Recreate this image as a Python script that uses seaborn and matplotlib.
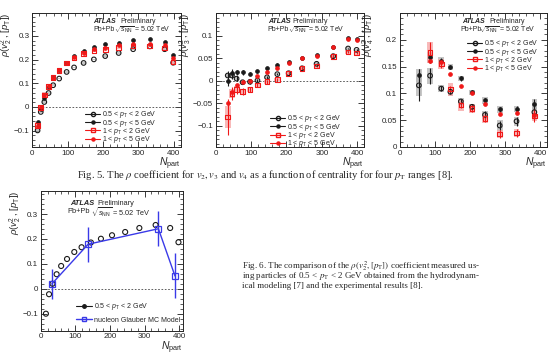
import matplotlib
matplotlib.use('Agg')
import matplotlib.pyplot as plt
from matplotlib.lines import Line2D
from matplotlib.ticker import AutoMinorLocator, FuncFormatter
import seaborn as sns

# Datos (N_part y coeficiente rho)
npart_v2 = [15, 24, 34, 46, 59, 76, 97, 118, 145, 174, 206, 244, 285, 332, 374, 398]
v2_pt05_2 = [-0.099, -0.021, 0.021, 0.059, 0.092, 0.12, 0.148, 0.167, 0.186,
             0.201, 0.215, 0.228, 0.244, 0.256, 0.244, 0.187]
v2_pt05_5 = [-0.063, -0.008, 0.04, 0.085, 0.122, 0.158, 0.187, 0.214, 0.235,
             0.253, 0.265, 0.272, 0.282, 0.289, 0.275, 0.221]
v2_pt1_2 = [-0.077, -0.003, 0.05, 0.087, 0.124, 0.155, 0.185, 0.207, 0.225,
            0.237, 0.244, 0.251, 0.258, 0.258, 0.249, 0.19]
v2_pt1_5 = [-0.082, 0.0, 0.05, 0.09, 0.124, 0.157, 0.187, 0.21, 0.23,
            0.243, 0.25, 0.26, 0.265, 0.268, 0.26, 0.205]
v2_sis_05_2 = [0.006, 0.005, 0.004, 0.004, 0.004, 0.003, 0.003, 0.003, 0.003,
               0.003, 0.003, 0.003, 0.003, 0.003, 0.004, 0.005]
v2_sis_1_2 = [0.012, 0.01, 0.012, 0.01, 0.008, 0.007, 0.006, 0.006, 0.006,
              0.005, 0.005, 0.005, 0.005, 0.005, 0.006, 0.008]

npart_v3 = [34, 46, 59, 76, 97, 118, 145, 174, 206, 244, 285, 332, 374, 398]
v3_pt05_2 = [0.012, 0.012, 0.005, -0.003, -0.002, 0.001, 0.008, 0.015, 0.017,
             0.028, 0.038, 0.055, 0.072, 0.069]
v3_pt05_5 = [0.0, 0.018, 0.019, 0.019, 0.016, 0.021, 0.028, 0.036, 0.042,
             0.05, 0.058, 0.076, 0.095, 0.094]
v3_pt1_2 = [-0.08, -0.028, -0.019, -0.024, -0.019, -0.009, -0.002, 0.003, 0.016,
            0.028, 0.033, 0.054, 0.064, 0.062]
v3_pt1_5 = [-0.05, -0.024, -0.01, -0.003, 0.0, 0.01, 0.02, 0.028, 0.04,
            0.05, 0.056, 0.075, 0.094, 0.092]
v3_est_05_2 = [0.01, 0.008, 0.006, 0.005, 0.004, 0.003, 0.003, 0.003, 0.002,
               0.002, 0.002, 0.002, 0.002, 0.002]
v3_est_05_5 = [0.012, 0.008, 0.006, 0.005, 0.004, 0.003, 0.003, 0.003, 0.002,
               0.002, 0.002, 0.002, 0.002, 0.002]
v3_est_1_2 = [0.04, 0.015, 0.01, 0.008, 0.006, 0.005, 0.004, 0.003, 0.003,
              0.003, 0.003, 0.003, 0.003, 0.003]
v3_sis_05_2 = [0.006, 0.005, 0.004, 0.003, 0.003, 0.003, 0.003, 0.003, 0.003,
               0.003, 0.003, 0.003, 0.003, 0.003]
v3_sis_1_2 = [0.025, 0.01, 0.008, 0.007, 0.006, 0.005, 0.004, 0.004, 0.004,
              0.004, 0.004, 0.004, 0.004, 0.004]

npart_v4 = [54, 86, 118, 144, 174, 206, 243, 285, 333, 384]
npart_v4_rojo = [86, 118, 144, 174, 206, 243, 285, 333, 384]
v4_pt05_2 = [0.115, 0.133, 0.109, 0.103, 0.085, 0.075, 0.06, 0.04, 0.048, 0.065]
v4_pt05_5 = [0.134, 0.167, 0.161, 0.149, 0.128, 0.102, 0.087, 0.07, 0.071, 0.08]
v4_pt1_2 = [0.176, 0.155, 0.108, 0.078, 0.072, 0.053, 0.024, 0.026, 0.058]
v4_pt1_5 = [0.16, 0.158, 0.136, 0.114, 0.1, 0.08, 0.062, 0.063, 0.06]
v4_est_05_2 = [0.03, 0.015, 0.005, 0.005, 0.005, 0.006, 0.007, 0.008, 0.008, 0.012]
v4_est_05_5 = [0.012, 0.01, 0.005, 0.004, 0.004, 0.004, 0.004, 0.005, 0.005, 0.01]
v4_est_1_2 = [0.02, 0.008, 0.006, 0.006, 0.006, 0.007, 0.007, 0.008, 0.012]
v4_sis_05_2 = [0.02, 0.015, 0.006, 0.008, 0.006, 0.006, 0.008, 0.01, 0.008, 0.012]
v4_sis_05_5 = [0.012, 0.01, 0.006, 0.006, 0.005, 0.005, 0.006, 0.006, 0.006, 0.01]
v4_sis_1_2 = [0.02, 0.01, 0.012, 0.01, 0.008, 0.008, 0.008, 0.008, 0.01]

npart_glauber = [32, 137, 340, 388]
rho_glauber = [0.02, 0.179, 0.241, 0.052]
err_glauber = [0.06, 0.07, 0.07, 0.09]

etiquetas_pt = ['0.5 < $p_{\\rm T}$ < 2 GeV', '0.5 < $p_{\\rm T}$ < 5 GeV',
                '1 < $p_{\\rm T}$ < 2 GeV', '1 < $p_{\\rm T}$ < 5 GeV']

ROJO = '#f01818'
AZUL = '#3a3ae8'
GRIS = '#b8b8b8'
ROSA = '#f7a8a8'

sns.set_theme(style='ticks')
plt.rcParams['font.family'] = ['Liberation Sans', 'DejaVu Sans']
plt.rcParams['mathtext.fontset'] = 'custom'
plt.rcParams['mathtext.rm'] = 'Liberation Sans'
plt.rcParams['mathtext.it'] = 'Liberation Sans:italic'
plt.rcParams['mathtext.bf'] = 'Liberation Sans:bold'
plt.rcParams['axes.linewidth'] = 0.7


def formato(valor, pos):
    texto = '%g' % valor
    return texto.replace('-', '\u2212')


def preparar_ejes(ax, ylim, yticks, xmax=420, cero=True):
    ax.set_xlim(0, xmax)
    ax.set_ylim(*ylim)
    ax.set_xticks([0, 100, 200, 300, 400])
    ax.set_yticks(yticks)
    ax.yaxis.set_major_formatter(FuncFormatter(formato))
    ax.xaxis.set_minor_locator(AutoMinorLocator(5))
    ax.yaxis.set_minor_locator(AutoMinorLocator(5))
    ax.tick_params(which='both', direction='in', top=True, right=True,
                   labelsize=5.8, pad=2, color='k')
    ax.tick_params(which='major', length=4, width=0.6)
    ax.tick_params(which='minor', length=2, width=0.5)
    if cero:
        ax.axhline(0, ls=(0, (2, 2)), color='#444444', lw=0.6, zorder=1)
    ax.set_xlabel('$N_{\\rm part}$', fontsize=7.5, ha='right', va='top')
    ax.xaxis.set_label_coords(1.0, -0.065)


def etiqueta_y(ax, n, x):
    ax.set_ylabel('$\\rho(v_{%d}^{2}\\,,\\,[p_{\\rm T}])$' % n, fontsize=6.8, loc='top')
    ax.yaxis.set_label_coords(x, 1.0)


def etiqueta_atlas(ax, xa, xp, xpb, xs, y1, y2, size=5.0):
    ax.text(xa, y1, 'ATLAS', transform=ax.transAxes, fontsize=size,
            fontweight='bold', fontstyle='italic', va='center')
    ax.text(xp, y1, 'Preliminary', transform=ax.transAxes, fontsize=size, va='center')
    ax.text(xpb, y2, 'Pb+Pb', transform=ax.transAxes, fontsize=size, va='center')
    ax.text(xs, y2, '$\\sqrt{s_{\\rm NN}}$ = 5.02 TeV', transform=ax.transAxes,
            fontsize=size, va='center')


def cajas(ax, x, y, sis, color, ancho=12):
    # Incertidumbre sistematica como cajas sombreadas
    ax.bar(x, [2 * s for s in sis], bottom=[v - s for v, s in zip(y, sis)],
           width=ancho, color=color, linewidth=0, alpha=0.8, zorder=1.5)


def serie(ax, x, y, color, abierto, est=None, tam=11):
    if est is not None:
        ax.errorbar(x, y, yerr=est, fmt='none', ecolor=color, elinewidth=0.8,
                    capsize=0, zorder=2)
    if abierto:
        sns.scatterplot(x=x, y=y, ax=ax, marker='o' if color == 'k' else 's',
                        s=tam, facecolor='none', edgecolor=color, linewidth=0.8,
                        zorder=3)
    else:
        sns.scatterplot(x=x, y=y, ax=ax, marker='o', s=tam * 0.7, color=color,
                        edgecolor=color, linewidth=0.5, zorder=3)


def manijas():
    return [Line2D([], [], color='k', marker='o', mfc='none', ms=3, lw=0.8),
            Line2D([], [], color='k', marker='o', ms=2.2, lw=0.8),
            Line2D([], [], color=ROJO, marker='s', mfc='none', ms=3, lw=0.8),
            Line2D([], [], color=ROJO, marker='o', ms=2.2, lw=0.8)]


def leyenda(ax, handles, labels, x, y, size=5.0, espacio=-0.4):
    ax.legend(handles, labels, loc='upper left', bbox_to_anchor=(x, y),
              frameon=False, fontsize=size, handlelength=2.2, handletextpad=0.3,
              labelspacing=espacio, borderpad=0, borderaxespad=0)


fig = plt.figure(figsize=(5.48, 3.6), dpi=100)
fig.patch.set_facecolor('white')

# Panel v2
ax1 = fig.add_axes([0.0589, 0.5917, 0.2713, 0.3722])
preparar_ejes(ax1, (-0.169, 0.397), [-0.1, 0, 0.1, 0.2, 0.3])
cajas(ax1, npart_v2, v2_pt05_2, v2_sis_05_2, GRIS)
cajas(ax1, npart_v2, v2_pt1_2, v2_sis_1_2, ROSA)
serie(ax1, npart_v2, v2_pt05_2, 'k', True)
serie(ax1, npart_v2, v2_pt05_5, 'k', False)
serie(ax1, npart_v2, v2_pt1_2, ROJO, True)
serie(ax1, npart_v2, v2_pt1_5, ROJO, False)
etiqueta_y(ax1, 2, -0.12)
etiqueta_atlas(ax1, 0.408, 0.592, 0.408, 0.55, 0.933, 0.88)
leyenda(ax1, manijas(), etiquetas_pt, 0.354, 0.28)

# Panel v3
ax2 = fig.add_axes([0.3936, 0.5917, 0.2713, 0.3722])
preparar_ejes(ax2, (-0.147, 0.151), [-0.1, -0.05, 0, 0.05, 0.1])
cajas(ax2, npart_v3, v3_pt05_2, v3_sis_05_2, GRIS)
cajas(ax2, npart_v3, v3_pt1_2, v3_sis_1_2, ROSA, ancho=16)
serie(ax2, npart_v3, v3_pt05_2, 'k', True, v3_est_05_2)
serie(ax2, npart_v3, v3_pt05_5, 'k', False, v3_est_05_5)
serie(ax2, npart_v3, v3_pt1_2, ROJO, True, v3_est_1_2)
serie(ax2, npart_v3, v3_pt1_5, ROJO, False)
etiqueta_y(ax2, 3, -0.15)
etiqueta_atlas(ax2, 0.354, 0.515, 0.345, 0.487, 0.935, 0.878)
leyenda(ax2, manijas(), etiquetas_pt, 0.365, 0.25)

# Panel v4
ax3 = fig.add_axes([0.7299, 0.5917, 0.2682, 0.3722])
preparar_ejes(ax3, (0, 0.25), [0, 0.05, 0.1, 0.15, 0.2], cero=False)
cajas(ax3, npart_v4, v4_pt05_2, v4_sis_05_2, GRIS, ancho=16)
cajas(ax3, npart_v4, v4_pt05_5, v4_sis_05_5, GRIS, ancho=16)
cajas(ax3, npart_v4_rojo, v4_pt1_2, v4_sis_1_2, ROSA, ancho=16)
serie(ax3, npart_v4, v4_pt05_2, 'k', True, v4_est_05_2)
serie(ax3, npart_v4, v4_pt05_5, 'k', False, v4_est_05_5)
serie(ax3, npart_v4_rojo, v4_pt1_2, ROJO, True, v4_est_1_2)
serie(ax3, npart_v4_rojo, v4_pt1_5, ROJO, False)
etiqueta_y(ax3, 4, -0.16)
etiqueta_atlas(ax3, 0.42, 0.607, 0.408, 0.54, 0.935, 0.878)
leyenda(ax3, manijas(), etiquetas_pt, 0.456, 0.81)

# Panel comparacion con Glauber
ax4 = fig.add_axes([0.0743, 0.0814, 0.2602, 0.388])
preparar_ejes(ax4, (-0.167, 0.392), [-0.1, 0, 0.1, 0.2, 0.3], xmax=412)
serie(ax4, npart_v2, v2_pt05_2, 'k', True, tam=13)
ax4.errorbar(npart_glauber, rho_glauber, yerr=err_glauber, fmt='none',
             ecolor=AZUL, elinewidth=1.0, capsize=0, zorder=2)
sns.lineplot(x=npart_glauber, y=rho_glauber, ax=ax4, color=AZUL, lw=1.0,
             marker='s', markersize=4, markerfacecolor='none',
             markeredgecolor=AZUL, markeredgewidth=0.9, sort=False, zorder=4)
etiqueta_y(ax4, 2, -0.125)
etiqueta_atlas(ax4, 0.205, 0.395, 0.19, 0.35, 0.912, 0.852, size=5.3)
leyenda(ax4, [Line2D([], [], color='k', marker='o', ms=2.5, lw=0.8),
              Line2D([], [], color=AZUL, marker='s', mfc='none', ms=3.5, lw=1.0)],
        ['0.5 < $p_{\\rm T}$ < 2 GeV', 'nucleon Glauber MC Model'],
        0.25, 0.21, size=5.0, espacio=0.6)

# Pies de figura
fig.text(265 / 548, 1 - 175 / 360,
         'Fig. 5. The $\\rho$ coefficient for $v_2, v_3$ and $v_4$ as a function of '
         'centrality for four $p_{\\rm T}$ ranges [8].',
         ha='center', va='center', family='Liberation Serif', fontsize=7.6,
         math_fontfamily='stix')
lineas_fig6 = ['Fig. 6. The comparison of the $\\rho(v_2^2, [p_{\\rm T}])$ coefficient measured us-',
               'ing particles of 0.5 < $p_{\\rm T}$ < 2 GeV obtained from the hydrodynam-',
               'ical modeling [7] and the experimental results [8].']
for i, linea in enumerate(lineas_fig6):
    fig.text(242.5 / 548, 1 - (266 + 10 * i) / 360, linea, ha='left', va='center',
             family='Liberation Serif', fontsize=6.5, math_fontfamily='stix')

fig.savefig('out.png', dpi=100, facecolor='white')
